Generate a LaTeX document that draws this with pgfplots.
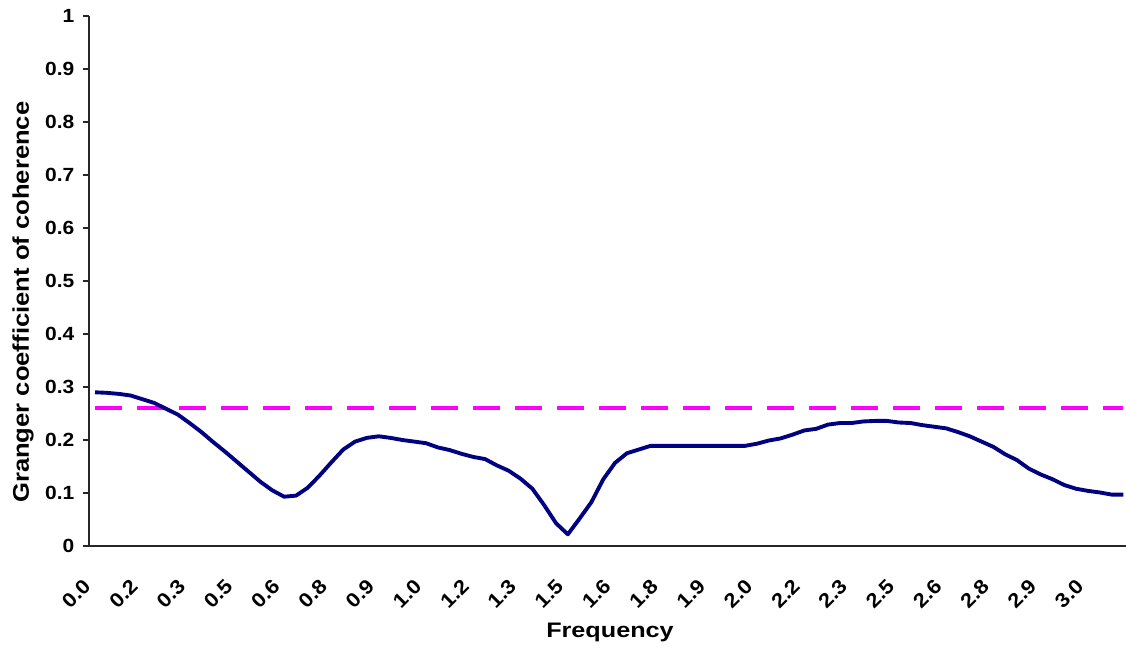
\documentclass[border=0pt]{standalone}
\usepackage{fontspec}
\setmainfont{Liberation Sans}
\newfontfamily\tickfont{Liberation Sans}[FakeStretch=1.1]
\newfontfamily\labfont{Liberation Sans}[FakeStretch=1.2]
\newfontfamily\ylabfont{Liberation Sans}[FakeStretch=1.13]
\usepackage{pgfplots}
\pgfplotsset{compat=1.18}
\definecolor{navyline}{HTML}{000080}
\definecolor{magline}{HTML}{FF00FF}
\begin{document}
\begin{tikzpicture}
\begin{axis}[
  width=777.75pt, height=397.5pt, scale only axis,
  xmin=-0.51, xmax=87.22, ymin=0, ymax=1,
  axis x line=bottom, axis y line=left,
  axis line style={-, line width=1.2pt, black!85},
  xtick={0,4,...,84},
  xticklabels={0.0,0.2,0.3,0.5,0.6,0.8,0.9,1.0,1.2,1.3,1.5,1.6,1.8,1.9,2.0,2.2,2.3,2.5,2.6,2.8,2.9,3.0},
  x tick style={draw=none},
  ytick={0,0.1,0.2,0.3,0.4,0.5,0.6,0.7,0.8,0.9,1},
  y tick style={line width=1pt, black!85},
  tick align=outside, major tick length=4.5pt,
  /pgf/number format/assume math mode=true,
  yticklabel style={font=\tickfont\bfseries\fontsize{14.3}{16}\selectfont, xshift=-3pt},
  xticklabel style={font=\tickfont\bfseries\fontsize{15}{17}\selectfont, rotate=45, anchor=east, xshift=-17pt, yshift=-12pt},
  xlabel={Frequency},
  ylabel={Granger coefficient of coherence},
  every axis x label/.style={at={(axis description cs:0.5024,-0.1717)}, anchor=base, font=\labfont\bfseries\fontsize{15.75}{18}\selectfont},
  every axis y label/.style={at={(axis description cs:-0.0636,0.46)}, anchor=center, rotate=90, font=\ylabfont\bfseries\fontsize{17}{20}\selectfont},
  clip=false,
]
\addplot[magline, line width=2.6pt, dash pattern=on 20.5pt off 11pt] coordinates {(0,0.26) (87,0.26)};
\addplot[navyline, line width=2.9pt, line join=round] coordinates {
(0,0.290) (1,0.289) (2,0.287) (3,0.284) (4,0.277) (5,0.270) (6,0.259) (7,0.248)
(8,0.232) (9,0.215) (10,0.196) (11,0.178) (12,0.159) (13,0.140) (14,0.121) (15,0.105)
(16,0.093) (17,0.095) (18,0.110) (19,0.133) (20,0.158) (21,0.182) (22,0.197) (23,0.204)
(24,0.207) (25,0.204) (26,0.200) (27,0.197) (28,0.194) (29,0.186) (30,0.181) (31,0.174)
(32,0.168) (33,0.164) (34,0.152) (35,0.142) (36,0.127) (37,0.108) (38,0.077) (39,0.043)
(40,0.022) (41,0.052) (42,0.083) (43,0.126) (44,0.157) (45,0.175) (46,0.182) (47,0.189)
(48,0.189) (49,0.189) (50,0.189) (51,0.189) (52,0.189) (53,0.189) (54,0.189) (55,0.189)
(56,0.193) (57,0.199) (58,0.203) (59,0.210) (60,0.218) (61,0.221) (62,0.229) (63,0.232)
(64,0.232) (65,0.235) (66,0.236) (67,0.236) (68,0.233) (69,0.232) (70,0.228) (71,0.225)
(72,0.222) (73,0.215) (74,0.207) (75,0.197) (76,0.187) (77,0.173) (78,0.162) (79,0.146)
(80,0.135) (81,0.126) (82,0.115) (83,0.108) (84,0.104) (85,0.101) (86,0.097) (87,0.097)
};
\coordinate (sw) at (rel axis cs:0,0);
\end{axis}
\pgfresetboundingbox
\path (sw) ++(-66.75pt,-76.5pt) rectangle ++(844.5pt,486pt);
\end{tikzpicture}
\end{document}
